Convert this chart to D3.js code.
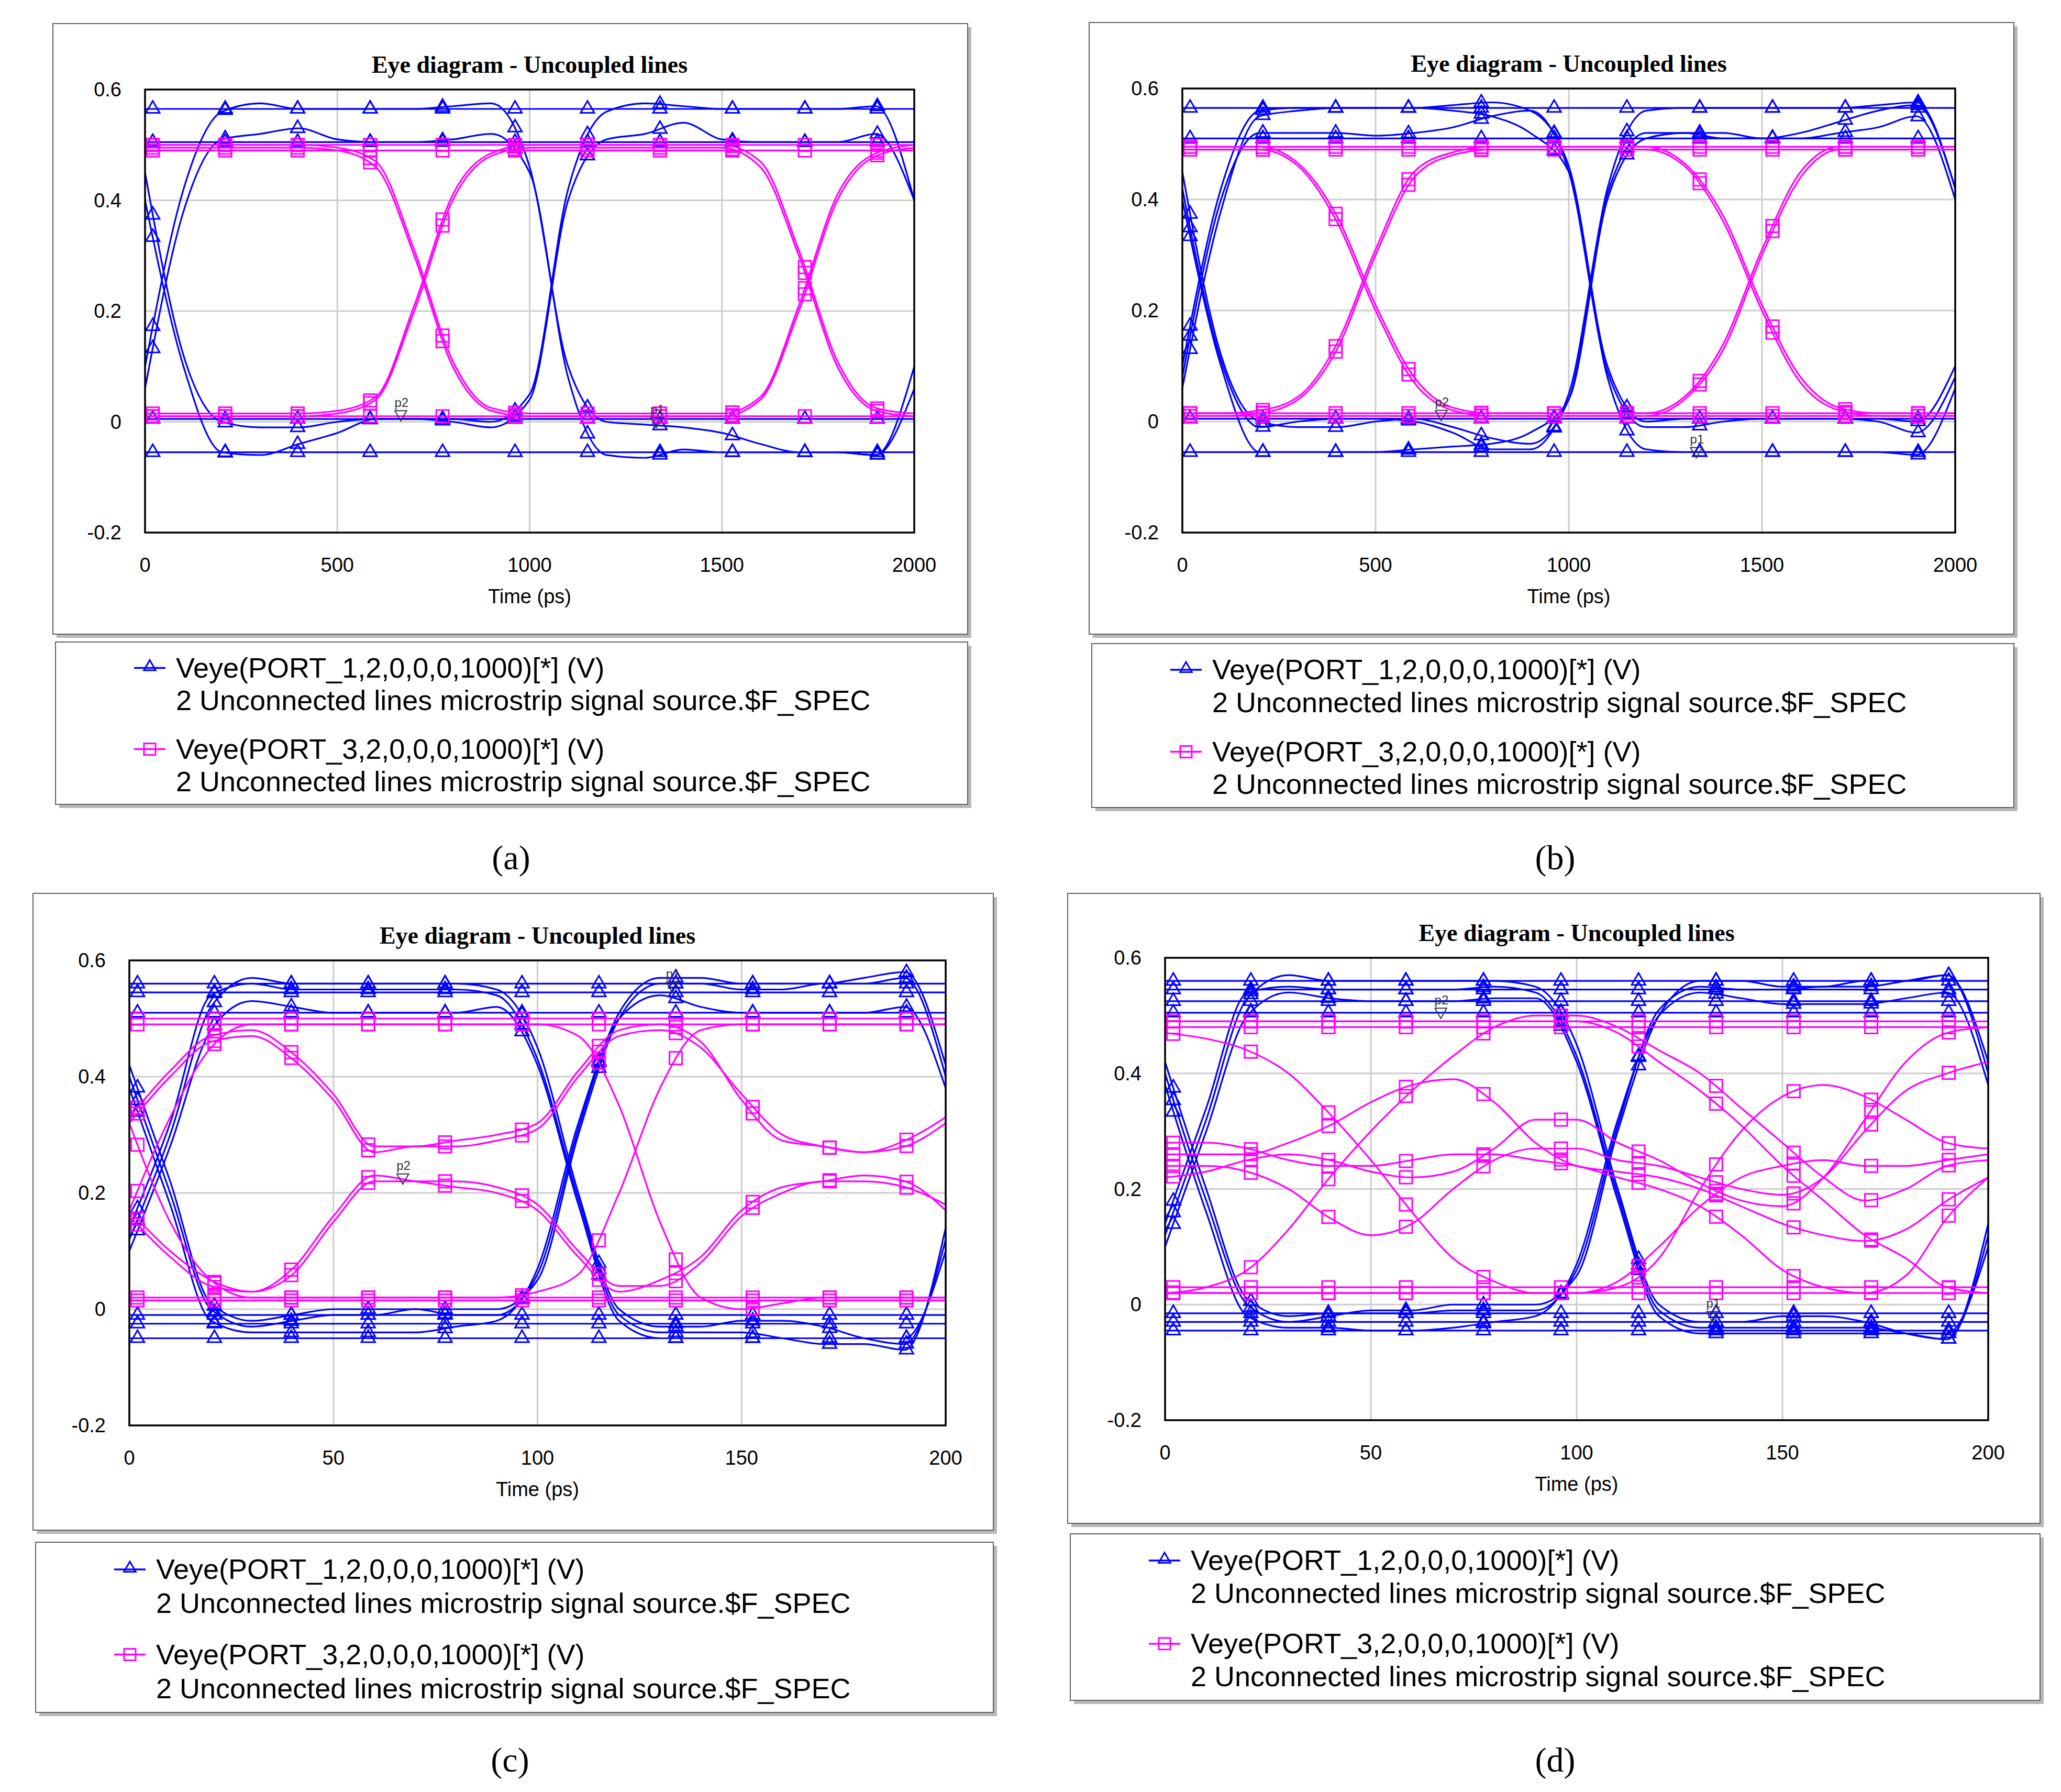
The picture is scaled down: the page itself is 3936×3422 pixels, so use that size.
<!DOCTYPE html>
<html>
<head>
<meta charset="utf-8">
<script src="https://cdn.jsdelivr.net/npm/d3@7"></script>
<style>
  body { margin: 0; background: #fff; }
  text { font-family: "Liberation Sans Narrow", "Liberation Sans", Arial, sans-serif; }
</style>
</head>
<body>
<div id="chart-area"></div>
<script>
// time grids (21 samples each)
let timeLong = d3.range(0, 2001, 100);
let timeShort = d3.range(0, 201, 10);
let yTicks = [-0.2, 0, 0.2, 0.4, 0.6];
let xTicksLong = [0, 500, 1000, 1500, 2000];
let xTicksShort = [0, 50, 100, 150, 200];
let legendLabels = ["Veye(PORT_1,2,0,0,0,1000)[*] (V)", "Veye(PORT_3,2,0,0,0,1000)[*] (V)"];
let legendSub = "2 Unconnected lines microstrip signal source.$F_SPEC";
let panelLetters = ["(a)", "(b)", "(c)", "(d)"];

// panel (a)
let blueA = [
  [0.565,0.565,0.565,0.565,0.565,0.565,0.565,0.565,0.565,0.565,0.565,0.565,0.565,0.565,0.565,0.565,0.565,0.565,0.565,0.565,0.565],
  [0.505,0.505,0.505,0.505,0.505,0.505,0.505,0.505,0.505,0.505,0.505,0.505,0.505,0.505,0.505,0.505,0.505,0.505,0.505,0.505,0.505],
  [0.005,0.005,0.005,0.005,0.005,0.005,0.005,0.005,0.005,0.005,0.005,0.005,0.005,0.005,0.005,0.005,0.005,0.005,0.005,0.005,0.005],
  [-0.055,-0.055,-0.055,-0.055,-0.055,-0.055,-0.055,-0.055,-0.055,-0.055,-0.055,-0.055,-0.055,-0.055,-0.055,-0.055,-0.055,-0.055,-0.055,-0.055,-0.055],
  [0.06,0.38,0.51,0.52,0.53,0.51,0.505,0.505,0.51,0.52,0.45,0.08,-0.06,-0.065,-0.05,-0.055,-0.055,-0.055,-0.055,-0.06,0.06],
  [0.45,0.12,0.0,-0.01,-0.01,0.0,0.005,0.005,0.005,0.0,0.05,0.42,0.56,0.575,0.57,0.565,0.565,0.565,0.565,0.57,0.40],
  [0.10,0.42,0.56,0.575,0.565,0.565,0.565,0.565,0.57,0.575,0.46,0.10,0.0,-0.005,-0.01,-0.02,-0.04,-0.055,-0.055,-0.06,0.10],
  [0.40,0.10,-0.055,-0.06,-0.04,-0.02,0.005,0.005,0.0,-0.01,0.04,0.40,0.51,0.52,0.54,0.51,0.505,0.505,0.505,0.52,0.40]
];
let magentaA = [
  [0.49,0.49,0.49,0.49,0.49,0.49,0.49,0.49,0.49,0.49,0.49,0.49,0.49,0.49,0.49,0.49,0.49,0.49,0.49,0.49,0.49],
  [0.50,0.50,0.50,0.50,0.50,0.50,0.50,0.50,0.50,0.50,0.50,0.50,0.50,0.50,0.50,0.50,0.50,0.50,0.50,0.50,0.50],
  [0.01,0.01,0.01,0.01,0.01,0.01,0.01,0.01,0.01,0.01,0.01,0.01,0.01,0.01,0.01,0.01,0.01,0.01,0.01,0.01,0.01],
  [0.495,0.495,0.495,0.495,0.495,0.49,0.46,0.30,0.10,0.02,0.01,0.01,0.01,0.01,0.01,0.01,0.04,0.20,0.40,0.48,0.495],
  [0.50,0.50,0.50,0.50,0.50,0.495,0.47,0.31,0.11,0.025,0.015,0.015,0.015,0.015,0.015,0.015,0.045,0.21,0.41,0.485,0.50],
  [0.01,0.01,0.01,0.01,0.01,0.015,0.04,0.20,0.40,0.48,0.495,0.495,0.495,0.495,0.495,0.495,0.46,0.30,0.10,0.02,0.01],
  [0.015,0.015,0.015,0.015,0.015,0.02,0.045,0.21,0.41,0.485,0.50,0.50,0.50,0.50,0.50,0.50,0.47,0.31,0.11,0.025,0.015]
];

// panel (b)
let blueB = [
  [0.565,0.565,0.565,0.565,0.565,0.565,0.565,0.565,0.565,0.565,0.565,0.565,0.565,0.565,0.565,0.565,0.565,0.565,0.565,0.565,0.565],
  [0.51,0.51,0.51,0.51,0.51,0.51,0.51,0.51,0.51,0.51,0.51,0.51,0.51,0.51,0.51,0.51,0.51,0.51,0.51,0.51,0.51],
  [0.005,0.005,0.005,0.005,0.005,0.005,0.005,0.005,0.005,0.005,0.005,0.005,0.005,0.005,0.005,0.005,0.005,0.005,0.005,0.005,0.005],
  [-0.055,-0.055,-0.055,-0.055,-0.055,-0.055,-0.055,-0.055,-0.055,-0.055,-0.055,-0.055,-0.055,-0.055,-0.055,-0.055,-0.055,-0.055,-0.055,-0.055,-0.055],
  [0.06,0.38,0.55,0.56,0.565,0.565,0.565,0.56,0.55,0.52,0.45,0.08,-0.05,-0.055,-0.055,-0.055,-0.055,-0.055,-0.055,-0.06,0.06],
  [0.45,0.12,0.0,-0.01,-0.01,0.0,0.005,-0.01,-0.03,-0.04,0.04,0.42,0.56,0.565,0.565,0.565,0.565,0.565,0.57,0.575,0.42],
  [0.10,0.42,0.56,0.565,0.565,0.565,0.565,0.57,0.575,0.56,0.46,0.10,0.0,0.005,0.005,0.005,0.005,0.005,0.005,0.0,0.10],
  [0.40,0.10,-0.055,-0.055,-0.055,-0.055,-0.05,-0.045,-0.04,-0.02,0.04,0.40,0.51,0.52,0.52,0.51,0.51,0.52,0.53,0.55,0.40],
  [0.08,0.40,0.52,0.52,0.52,0.515,0.52,0.53,0.55,0.56,0.45,0.09,-0.01,-0.01,0.0,0.005,0.005,0.005,0.0,-0.02,0.08],
  [0.42,0.11,-0.01,0.0,0.005,0.005,0.0,-0.02,-0.05,-0.05,0.05,0.41,0.52,0.52,0.51,0.51,0.52,0.54,0.56,0.57,0.42]
];
let magentaB = [
  [0.49,0.49,0.49,0.49,0.49,0.49,0.49,0.49,0.49,0.49,0.49,0.49,0.49,0.49,0.49,0.49,0.49,0.49,0.49,0.49,0.49],
  [0.495,0.495,0.495,0.495,0.495,0.495,0.495,0.495,0.495,0.495,0.495,0.495,0.495,0.495,0.495,0.495,0.495,0.495,0.495,0.495,0.495],
  [0.01,0.01,0.01,0.01,0.01,0.01,0.01,0.01,0.01,0.01,0.01,0.01,0.01,0.01,0.01,0.01,0.01,0.01,0.01,0.01,0.01],
  [0.015,0.015,0.015,0.015,0.015,0.015,0.015,0.015,0.015,0.015,0.015,0.015,0.015,0.015,0.015,0.015,0.015,0.015,0.015,0.015,0.015],
  [0.49,0.49,0.49,0.46,0.36,0.20,0.07,0.02,0.01,0.01,0.01,0.01,0.01,0.04,0.13,0.30,0.44,0.49,0.49,0.49,0.49],
  [0.495,0.495,0.495,0.465,0.37,0.21,0.08,0.025,0.015,0.015,0.015,0.015,0.015,0.045,0.14,0.31,0.45,0.495,0.495,0.495,0.495],
  [0.01,0.01,0.015,0.04,0.13,0.30,0.44,0.48,0.49,0.49,0.49,0.49,0.49,0.46,0.36,0.20,0.07,0.02,0.01,0.01,0.01],
  [0.015,0.015,0.02,0.045,0.14,0.31,0.45,0.485,0.495,0.495,0.495,0.495,0.495,0.465,0.37,0.21,0.08,0.025,0.015,0.015,0.015]
];

// panel (c)
let blueC = [
  [0.56,0.56,0.56,0.56,0.56,0.56,0.56,0.56,0.56,0.56,0.56,0.56,0.56,0.56,0.56,0.56,0.56,0.56,0.56,0.56,0.56],
  [0.545,0.545,0.545,0.545,0.545,0.545,0.545,0.545,0.545,0.545,0.545,0.545,0.545,0.545,0.545,0.545,0.545,0.545,0.545,0.545,0.545],
  [0.51,0.51,0.51,0.51,0.51,0.51,0.51,0.51,0.51,0.51,0.51,0.51,0.51,0.51,0.51,0.51,0.51,0.51,0.51,0.51,0.51],
  [-0.01,-0.01,-0.01,-0.01,-0.01,-0.01,-0.01,-0.01,-0.01,-0.01,-0.01,-0.01,-0.01,-0.01,-0.01,-0.01,-0.01,-0.01,-0.01,-0.01,-0.01],
  [-0.025,-0.025,-0.025,-0.025,-0.025,-0.025,-0.025,-0.025,-0.025,-0.025,-0.025,-0.025,-0.025,-0.025,-0.025,-0.025,-0.025,-0.025,-0.025,-0.025,-0.025],
  [-0.05,-0.05,-0.05,-0.05,-0.05,-0.05,-0.05,-0.05,-0.05,-0.05,-0.05,-0.05,-0.05,-0.05,-0.05,-0.05,-0.05,-0.05,-0.05,-0.05,-0.05],
  [0.12,0.30,0.52,0.57,0.56,0.56,0.56,0.56,0.56,0.55,0.45,0.20,0.0,-0.03,-0.03,-0.02,-0.02,-0.03,-0.05,-0.06,0.12],
  [0.40,0.20,0.0,-0.03,-0.02,-0.01,-0.01,0.0,0.0,0.0,0.05,0.30,0.50,0.56,0.56,0.55,0.55,0.56,0.56,0.57,0.40],
  [0.10,0.28,0.48,0.53,0.52,0.51,0.51,0.51,0.51,0.52,0.42,0.18,-0.02,-0.05,-0.05,-0.05,-0.05,-0.05,-0.05,-0.05,0.10],
  [0.38,0.18,-0.02,-0.04,-0.04,-0.04,-0.04,-0.04,-0.03,-0.02,0.07,0.32,0.50,0.54,0.52,0.51,0.51,0.51,0.51,0.52,0.38],
  [0.14,0.32,0.54,0.56,0.55,0.55,0.55,0.55,0.55,0.54,0.43,0.19,-0.01,-0.04,-0.04,-0.04,-0.05,-0.06,-0.06,-0.07,0.14],
  [0.42,0.22,0.01,-0.02,-0.01,0.0,0.0,0.0,-0.01,-0.01,0.06,0.31,0.51,0.57,0.57,0.56,0.56,0.56,0.57,0.58,0.42]
];
let magentaC = [
  [0.49,0.49,0.49,0.49,0.49,0.49,0.49,0.49,0.49,0.49,0.49,0.49,0.49,0.49,0.49,0.49,0.49,0.49,0.49,0.49,0.49],
  [0.50,0.50,0.50,0.50,0.50,0.50,0.50,0.50,0.50,0.50,0.50,0.50,0.50,0.50,0.50,0.50,0.50,0.50,0.50,0.50,0.50],
  [0.02,0.02,0.02,0.02,0.02,0.02,0.02,0.02,0.02,0.02,0.02,0.02,0.02,0.02,0.02,0.02,0.02,0.02,0.02,0.02,0.02],
  [0.015,0.015,0.015,0.015,0.015,0.015,0.015,0.015,0.015,0.015,0.015,0.015,0.015,0.015,0.015,0.015,0.015,0.015,0.015,0.015,0.015],
  [0.32,0.40,0.46,0.47,0.43,0.36,0.27,0.28,0.28,0.29,0.31,0.40,0.47,0.48,0.45,0.37,0.30,0.28,0.27,0.28,0.32],
  [0.33,0.41,0.47,0.48,0.44,0.37,0.28,0.28,0.29,0.30,0.32,0.41,0.48,0.49,0.46,0.36,0.29,0.28,0.27,0.29,0.33],
  [0.17,0.10,0.05,0.03,0.06,0.15,0.22,0.22,0.22,0.21,0.18,0.10,0.04,0.04,0.08,0.16,0.20,0.22,0.22,0.21,0.18],
  [0.16,0.09,0.04,0.03,0.07,0.16,0.23,0.22,0.21,0.20,0.17,0.09,0.03,0.05,0.09,0.17,0.21,0.22,0.23,0.22,0.17],
  [0.17,0.33,0.45,0.49,0.49,0.49,0.49,0.49,0.49,0.49,0.49,0.47,0.35,0.15,0.02,0.0,0.01,0.02,0.02,0.02,0.02],
  [0.32,0.15,0.05,0.02,0.02,0.02,0.02,0.02,0.02,0.02,0.03,0.06,0.20,0.38,0.48,0.49,0.49,0.49,0.49,0.49,0.49]
];

// panel (d)
let blueD = [
  [0.56,0.56,0.56,0.56,0.56,0.56,0.56,0.56,0.56,0.56,0.56,0.56,0.56,0.56,0.56,0.56,0.56,0.56,0.56,0.56,0.56],
  [0.545,0.545,0.545,0.545,0.545,0.545,0.545,0.545,0.545,0.545,0.545,0.545,0.545,0.545,0.545,0.545,0.545,0.545,0.545,0.545,0.545],
  [0.525,0.525,0.525,0.525,0.525,0.525,0.525,0.525,0.525,0.525,0.525,0.525,0.525,0.525,0.525,0.525,0.525,0.525,0.525,0.525,0.525],
  [0.505,0.505,0.505,0.505,0.505,0.505,0.505,0.505,0.505,0.505,0.505,0.505,0.505,0.505,0.505,0.505,0.505,0.505,0.505,0.505,0.505],
  [-0.015,-0.015,-0.015,-0.015,-0.015,-0.015,-0.015,-0.015,-0.015,-0.015,-0.015,-0.015,-0.015,-0.015,-0.015,-0.015,-0.015,-0.015,-0.015,-0.015,-0.015],
  [-0.03,-0.03,-0.03,-0.03,-0.03,-0.03,-0.03,-0.03,-0.03,-0.03,-0.03,-0.03,-0.03,-0.03,-0.03,-0.03,-0.03,-0.03,-0.03,-0.03,-0.03],
  [-0.045,-0.045,-0.045,-0.045,-0.045,-0.045,-0.045,-0.045,-0.045,-0.045,-0.045,-0.045,-0.045,-0.045,-0.045,-0.045,-0.045,-0.045,-0.045,-0.045,-0.045],
  [0.12,0.32,0.53,0.57,0.56,0.56,0.56,0.56,0.56,0.55,0.45,0.20,0.0,-0.03,-0.03,-0.02,-0.02,-0.03,-0.05,-0.06,0.12],
  [0.40,0.18,0.0,-0.03,-0.02,-0.01,-0.01,0.0,0.0,0.0,0.05,0.30,0.50,0.56,0.56,0.55,0.55,0.56,0.56,0.57,0.40],
  [0.10,0.30,0.50,0.54,0.53,0.525,0.525,0.525,0.53,0.53,0.42,0.18,-0.02,-0.05,-0.05,-0.05,-0.05,-0.05,-0.05,-0.05,0.10],
  [0.38,0.16,-0.02,-0.04,-0.04,-0.045,-0.045,-0.04,-0.03,-0.02,0.07,0.32,0.50,0.54,0.53,0.52,0.52,0.52,0.53,0.54,0.38],
  [0.14,0.34,0.54,0.55,0.545,0.545,0.545,0.545,0.55,0.54,0.43,0.19,-0.01,-0.04,-0.04,-0.04,-0.04,-0.04,-0.05,-0.06,0.14],
  [0.42,0.20,0.01,-0.02,-0.015,-0.015,-0.015,-0.01,-0.01,-0.01,0.06,0.31,0.51,0.55,0.545,0.545,0.55,0.55,0.56,0.57,0.42]
];
let magentaD = [
  [0.49,0.49,0.49,0.49,0.49,0.49,0.49,0.49,0.49,0.49,0.49,0.49,0.49,0.49,0.49,0.49,0.49,0.49,0.49,0.49,0.49],
  [0.48,0.48,0.48,0.48,0.48,0.48,0.48,0.48,0.48,0.48,0.48,0.48,0.48,0.48,0.48,0.48,0.48,0.48,0.48,0.48,0.48],
  [0.02,0.02,0.02,0.02,0.02,0.02,0.02,0.02,0.02,0.02,0.02,0.02,0.02,0.02,0.02,0.02,0.02,0.02,0.02,0.02,0.02],
  [0.03,0.03,0.03,0.03,0.03,0.03,0.03,0.03,0.03,0.03,0.03,0.03,0.03,0.03,0.03,0.03,0.03,0.03,0.03,0.03,0.03],
  [0.47,0.46,0.44,0.40,0.33,0.25,0.16,0.08,0.04,0.02,0.02,0.03,0.08,0.20,0.30,0.36,0.38,0.36,0.32,0.28,0.27],
  [0.02,0.03,0.06,0.13,0.22,0.30,0.37,0.43,0.48,0.50,0.50,0.48,0.44,0.40,0.34,0.28,0.22,0.18,0.20,0.24,0.25],
  [0.26,0.26,0.26,0.28,0.31,0.35,0.38,0.39,0.35,0.28,0.24,0.23,0.22,0.20,0.17,0.14,0.12,0.11,0.13,0.18,0.22],
  [0.24,0.24,0.23,0.20,0.15,0.12,0.14,0.20,0.25,0.27,0.27,0.25,0.24,0.22,0.20,0.19,0.22,0.30,0.37,0.40,0.42],
  [0.28,0.28,0.27,0.25,0.24,0.24,0.25,0.26,0.26,0.25,0.24,0.22,0.20,0.17,0.12,0.06,0.03,0.02,0.05,0.15,0.22],
  [0.22,0.23,0.25,0.26,0.25,0.23,0.22,0.23,0.27,0.32,0.32,0.28,0.25,0.21,0.18,0.17,0.22,0.32,0.42,0.47,0.48],
  [0.49,0.49,0.49,0.49,0.49,0.49,0.49,0.49,0.49,0.49,0.49,0.47,0.42,0.37,0.31,0.24,0.18,0.12,0.08,0.03,0.02],
  [0.02,0.02,0.02,0.02,0.02,0.02,0.02,0.02,0.02,0.02,0.02,0.04,0.10,0.17,0.22,0.24,0.25,0.24,0.24,0.25,0.26]
];

// p1 / p2 marker annotations: [time, value, label]
let markersA = [[665, 0.012, "p2"], [1330, 0.0, "p1"]];
let markersB = [[670, 0.012, "p2"], [1330, -0.055, "p1"]];
let markersC = [[67, 0.225, "p2"], [133, 0.555, "p1"]];
let markersD = [[67, 0.505, "p2"], [133, -0.02, "p1"]];

let blueColor = "#0000ff";
let magentaColor = "#ff00ff";

let svg = d3.select("#chart-area").append("svg")
  .attr("width", 3936).attr("height", 3422);

// layout of the four panels (pixels)
let panels = [
  {frame: [101, 45, 1848, 1211], plot: [277, 171, 1746, 1017], legend: [106, 1226, 1848, 1536],
   time: timeLong, xTicks: xTicksLong, xMax: 2000, blue: blueA, magenta: magentaA, marks: markersA, letter: [976, 1640]},
  {frame: [2080, 43, 3846, 1211], plot: [2258, 169, 3734, 1017], legend: [2085, 1229, 3846, 1542],
   time: timeLong, xTicks: xTicksLong, xMax: 2000, blue: blueB, magenta: magentaB, marks: markersB, letter: [2970, 1640]},
  {frame: [63, 1706, 1897, 2922], plot: [247, 1834, 1806, 2722], legend: [68, 2945, 1897, 3270],
   time: timeShort, xTicks: xTicksShort, xMax: 200, blue: blueC, magenta: magentaC, marks: markersC, letter: [974, 3363]},
  {frame: [2039, 1706, 3896, 2909], plot: [2225, 1829, 3797, 2712], legend: [2044, 2929, 3896, 3247],
   time: timeShort, xTicks: xTicksShort, xMax: 200, blue: blueD, magenta: magentaD, marks: markersD, letter: [2970, 3363]}
];

function box(g, b) {
  g.append("rect").attr("x", b[0] + 7).attr("y", b[1] + 7)
    .attr("width", b[2] - b[0]).attr("height", b[3] - b[1]).attr("fill", "#b8b8b8");
  g.append("rect").attr("x", b[0]).attr("y", b[1])
    .attr("width", b[2] - b[0]).attr("height", b[3] - b[1])
    .attr("fill", "#fff").attr("stroke", "#606060").attr("stroke-width", 2);
}

function triangle(g, x, y, color, size) {
  g.append("path")
    .attr("d", d3.symbol().type(d3.symbolTriangle).size(size)())
    .attr("transform", "translate(" + x + "," + y + ")")
    .attr("fill", "none").attr("stroke", color).attr("stroke-width", 3);
}

function square(g, x, y, color, size) {
  g.append("rect").attr("x", x - size / 2).attr("y", y - size / 2)
    .attr("width", size).attr("height", size)
    .attr("fill", "none").attr("stroke", color).attr("stroke-width", 3);
}

let tickFmt = d => String(d);

panels.forEach((p, pi) => {
  let g = svg.append("g");
  box(g, p.frame);

  let x = d3.scaleLinear().domain([0, p.xMax]).range([p.plot[0], p.plot[2]]);
  let y = d3.scaleLinear().domain([-0.2, 0.6]).range([p.plot[3], p.plot[1]]);

  // gridlines
  g.selectAll(".gx").data(p.xTicks).enter().append("line")
    .attr("x1", d => x(d)).attr("x2", d => x(d))
    .attr("y1", p.plot[1]).attr("y2", p.plot[3])
    .attr("stroke", "#cccccc").attr("stroke-width", 3);
  g.selectAll(".gy").data(yTicks).enter().append("line")
    .attr("x1", p.plot[0]).attr("x2", p.plot[2])
    .attr("y1", d => y(d)).attr("y2", d => y(d))
    .attr("stroke", "#cccccc").attr("stroke-width", 3);

  // tick labels
  g.selectAll(".ty").data(yTicks).enter().append("text")
    .attr("x", p.plot[0] - 45).attr("y", d => y(d) + 13)
    .attr("text-anchor", "end").attr("font-size", 38)
    .text(tickFmt);
  g.selectAll(".tx").data(p.xTicks).enter().append("text")
    .attr("x", d => x(d)).attr("y", p.plot[3] + 75)
    .attr("text-anchor", "middle").attr("font-size", 38)
    .text(d => d);
  g.append("text")
    .attr("x", (p.plot[0] + p.plot[2]) / 2).attr("y", p.plot[3] + 135)
    .attr("text-anchor", "middle").attr("font-size", 38).text("Time (ps)");
  g.append("text")
    .attr("x", (p.plot[0] + p.plot[2]) / 2).attr("y", p.plot[1] - 32)
    .attr("text-anchor", "middle").attr("font-size", 46).attr("font-weight", "bold")
    .style("font-family", "'Liberation Serif', 'DejaVu Serif', serif")
    .text("Eye diagram - Uncoupled lines");

  let clip = g.append("clipPath").attr("id", "clip" + pi);
  clip.append("rect").attr("x", p.plot[0]).attr("y", p.plot[1] - 40)
    .attr("width", p.plot[2] - p.plot[0]).attr("height", p.plot[3] - p.plot[1] + 40);
  let plotG = g.append("g").attr("clip-path", "url(#clip" + pi + ")");

  let line = d3.line()
    .x((d, i) => x(p.time[i]))
    .y(d => y(d))
    .curve(d3.curveMonotoneX);

  // marker times: same spacing for every trace
  let markTimes = d3.range(11).map(k => p.xMax * (0.01 + 0.0942 * k));

  function drawSeries(series, color, shape) {
    series.forEach(vals => {
      let path = plotG.append("path").datum(vals)
        .attr("d", line).attr("fill", "none")
        .attr("stroke", color).attr("stroke-width", 3.2);
      // sample path to place markers on the curve
      let node = path.node();
      let len = node.getTotalLength();
      let samples = d3.range(0, len, 2).map(l => node.getPointAtLength(l));
      markTimes.forEach(t => {
        let px = x(t);
        let best = samples[d3.leastIndex(samples, s => Math.abs(s.x - px))];
        if (shape === "tri") triangle(plotG, px, best.y, color, 300);
        else square(plotG, px, best.y, color, 24);
      });
    });
  }
  drawSeries(p.blue, blueColor, "tri");
  drawSeries(p.magenta, magentaColor, "sq");

  // p1/p2 annotation markers
  p.marks.forEach(m => {
    g.append("path")
      .attr("d", d3.symbol().type(d3.symbolTriangle).size(220)())
      .attr("transform", "translate(" + x(m[0]) + "," + (y(m[1]) - 2) + ") rotate(180)")
      .attr("fill", "none").attr("stroke", "#333").attr("stroke-width", 2);
    g.append("text").attr("x", x(m[0]) - 12).attr("y", y(m[1]) - 16)
      .attr("font-size", 24).attr("fill", "#333").text(m[2]);
  });

  // plot border
  g.append("rect").attr("x", p.plot[0]).attr("y", p.plot[1])
    .attr("width", p.plot[2] - p.plot[0]).attr("height", p.plot[3] - p.plot[1])
    .attr("fill", "none").attr("stroke", "#000").attr("stroke-width", 3.5);

  // legend
  box(g, p.legend);
  let lx = p.legend[0] + 150;
  let rowH = (p.legend[3] - p.legend[1]);
  [blueColor, magentaColor].forEach((c, k) => {
    let ly = p.legend[1] + rowH * (0.16 + k * 0.5);
    g.append("line").attr("x1", lx).attr("x2", lx + 60).attr("y1", ly).attr("y2", ly)
      .attr("stroke", c).attr("stroke-width", 3.5);
    if (k === 0) triangle(g, lx + 30, ly - 2, c, 220);
    else square(g, lx + 30, ly, c, 22);
    g.append("text").attr("x", lx + 80).attr("y", ly + 18)
      .attr("font-size", 54).text(legendLabels[k]);
    g.append("text").attr("x", lx + 80).attr("y", ly + 18 + rowH * 0.2)
      .attr("font-size", 54).text(legendSub);
  });

  g.append("text").attr("x", p.letter[0]).attr("y", p.letter[1] + 20)
    .attr("text-anchor", "middle").attr("font-size", 66)
    .style("font-family", "'Liberation Serif', 'DejaVu Serif', serif")
    .text(panelLetters[pi]);
});
</script>
</body>
</html>
